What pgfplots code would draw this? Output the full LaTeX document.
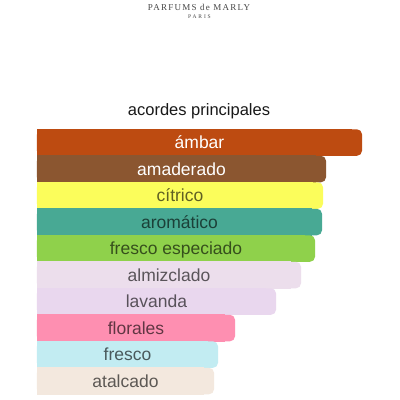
\documentclass[border=0pt]{standalone}
\usepackage{pgfplots}
\pgfplotsset{compat=1.18}
\usepackage{pgfplotstable}
\usepackage{fontspec}
\setmainfont{Liberation Sans}
\newfontfamily\logofont[LetterSpace=14]{Liberation Serif}
\newfontfamily\logosmall[LetterSpace=34]{Liberation Serif}

\definecolor{bar0}{HTML}{BD4B11}
\definecolor{bar1}{HTML}{8B5630}
\definecolor{bar2}{HTML}{FBFD5B}
\definecolor{bar3}{HTML}{48A994}
\definecolor{bar4}{HTML}{8FD14B}
\definecolor{bar5}{HTML}{ECDEEC}
\definecolor{bar6}{HTML}{E9D7EE}
\definecolor{bar7}{HTML}{FE8FB1}
\definecolor{bar8}{HTML}{C2ECF2}
\definecolor{bar9}{HTML}{F3E8DE}

% bar lengths in px from the left edge
\pgfplotstableread[col sep=comma]{
idx,len,label
0,325,ámbar
1,289,amaderado
2,286,cítrico
3,285,aromático
4,278,fresco especiado
5,264,almizclado
6,239,lavanda
7,198,florales
8,181,fresco
9,177,atalcado
}\accords

\begin{document}
\begin{tikzpicture}
\fill[white] (0,0) rectangle (400pt,400pt);
\useasboundingbox (0,0) rectangle (400pt,400pt);

\node[anchor=base, text=black!72, font=\logofont\fontsize{9}{10}\selectfont] at (199pt,389pt) {PARFUMS de MARLY};
\node[anchor=base, text=black!72, font=\logosmall\fontsize{5.5}{6}\selectfont] at (199.5pt,381pt) {PARIS};
\node[anchor=base, text=black!90, font=\fontsize{16.5}{19}\selectfont] at (199pt,284pt) {acordes principales};

\begin{axis}[
  axis lines=none,
  xtick=\empty, ytick=\empty,
  x=1pt, y=26.5pt,
  xmin=0, xmax=363,
  ymin=-0.5, ymax=9.5,
  y dir=reverse,
  at={(37pt,5.7pt)}, anchor=south west,
  clip=false,
]
% rounded end, then a square body (slightly taller, to hide seams) over the left corners
\pgfplotsinvokeforeach{0,...,9}{
  \addplot[xbar, bar width=1, bar shift=0pt, fill=bar#1, draw=none, rounded corners=5pt]
    table[x=len, y=idx,
          restrict expr to domain={\coordindex}{#1:#1}] {\accords};
  \addplot[xbar, bar width=1.04, bar shift=0pt, fill=bar#1, draw=none]
    table[x expr=\thisrow{len}-10, y=idx,
          restrict expr to domain={\coordindex}{#1:#1}] {\accords};
}
\addplot[draw=none, mark=none, nodes near coords, point meta=explicit symbolic,
  nodes near coords style={anchor=base, yshift=-6pt, text=white,
    font=\fontsize{17.5}{20}\selectfont},
  restrict expr to domain={\coordindex}{0:1}]
  table[x expr=\thisrow{len}/2, y=idx, meta=label] {\accords};
\addplot[draw=none, mark=none, nodes near coords, point meta=explicit symbolic,
  nodes near coords style={anchor=base, yshift=-6pt, text=black, text opacity=0.62,
    font=\fontsize{17.5}{20}\selectfont},
  restrict expr to domain={\coordindex}{2:9}]
  table[x expr=\thisrow{len}/2, y=idx, meta=label] {\accords};
\end{axis}
\end{tikzpicture}
\end{document}
